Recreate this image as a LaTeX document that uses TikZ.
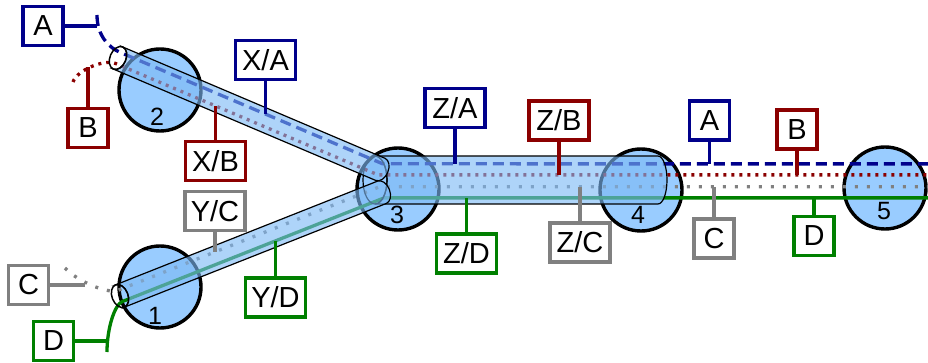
\documentclass[tikz,border=0pt]{standalone}
\usepackage{fontspec}
\setmainfont{Liberation Sans}
\definecolor{cA}{RGB}{0,0,139}
\definecolor{cB}{RGB}{139,0,0}
\definecolor{cC}{RGB}{128,128,128}
\definecolor{cD}{RGB}{0,128,0}
\definecolor{splicefill}{RGB}{153,204,255}
\definecolor{tubefill}{RGB}{125,185,245}
\begin{document}
\begin{tikzpicture}[x=1pt,y=1pt,
  labelbox/.style={draw, line width=3.2pt, fill=white, inner sep=0pt,
    minimum height=39pt, font=\fontsize{29}{34}\selectfont},
  boxone/.style={labelbox, minimum width=40pt},
  boxtwo/.style={labelbox, minimum width=60pt},
  tie/.style={line width=3.2pt},
  splice/.style={draw=black, line width=3.4pt, fill=splicefill},
  tube/.style={draw=black, line width=1.2pt, fill=tubefill, fill opacity=0.62},
  rim/.style={draw=black, line width=1.5pt},
  fibA/.style={draw=cA, line width=3.3pt, dash pattern=on 11pt off 6pt},
  fibB/.style={draw=cB, line width=3.3pt, dash pattern=on 3pt off 5pt},
  fibC/.style={draw=cC, line width=3.3pt, dash pattern=on 3pt off 9pt},
  fibD/.style={draw=cD, line width=3.3pt},
  num/.style={font=\fontsize{25}{30}\selectfont, inner sep=0pt}
]
\useasboundingbox (0,0) rectangle (928,-363);

% splice points
\node[splice, circle, minimum size=82pt] (s2) at (160,-90) {};
\node[splice, circle, minimum size=82pt] (s1) at (160,-287) {};
\node[splice, circle, minimum size=82pt] (s3) at (398,-189) {};
\node[splice, circle, minimum size=82pt] (s4) at (641,-190) {};
\node[splice, circle, minimum size=82pt] (s5) at (885,-188) {};

% fibre positions inside cable X
\begin{scope}[shift={(118,-58)}, rotate=-23]
  \coordinate (a1) at (0,6);   \coordinate (a2) at (285,6);
  \coordinate (b1) at (0,-6);  \coordinate (b2) at (285,-6);
  \coordinate (xa-tap) at (157.7,6);
  \coordinate (xb-tap) at (108.5,-6);
\end{scope}
% fibre positions inside cable Y
\begin{scope}[shift={(120,-296)}, rotate=21.6]
  \coordinate (c1) at (0,6);   \coordinate (c2) at (281.7,6);
  \coordinate (d1) at (0,-6);  \coordinate (d2) at (281.7,-6);
  \coordinate (yc-tap) at (104.5,6);
  \coordinate (yd-tap) at (164.9,-6);
\end{scope}
\coordinate (a0) at (97,-15);
\coordinate (b0) at (73,-82);
\coordinate (c0) at (65,-268);
\coordinate (d0) at (107,-352);
\coordinate (aend) at (928,-163.9);
\coordinate (bend) at (928,-174.9);
\coordinate (cend) at (928,-186.7);
\coordinate (dend) at (928,-197.9);

% fibres
\draw[fibA] (a0) .. controls (97,-36) and (109.2,-47.8) .. (a1) -- (a2) -- (aend);
\draw[fibB] (b0) .. controls (77,-70) and (104.6,-58.8) .. (b1) -- (b2) -- (bend);
\draw[fibC] (c0) .. controls (78,-282) and (108.5,-294.1) .. (c1) -- (c2) -- (cend);
\draw[fibD] (d0) .. controls (107,-328) and (114.8,-304.6) .. (d1) -- (d2) -- (dend);

% cable Z
\draw[tube] (375,-156) -- (658,-156)
  arc[start angle=90, end angle=-90, x radius=9, y radius=24]
  -- (375,-204) arc[start angle=-90, end angle=90, x radius=12, y radius=24] -- cycle;
\draw[rim, line width=1.2pt] (375,-180) ellipse[x radius=12, y radius=24];

% cable X
\begin{scope}[shift={(118,-58)}, rotate=-23]
  \draw[tube] (0,12) -- (285,12)
    arc[start angle=90, end angle=-90, x radius=8, y radius=12]
    -- (0,-12) arc[start angle=-90, end angle=90, x radius=8, y radius=12] -- cycle;
  \draw[rim] (0,0) ellipse[x radius=8, y radius=12];
\end{scope}
% cable Y
\begin{scope}[shift={(120,-296)}, rotate=21.6]
  \draw[tube] (0,12) -- (281.7,12)
    arc[start angle=90, end angle=-90, x radius=8, y radius=12]
    -- (0,-12) arc[start angle=-90, end angle=90, x radius=8, y radius=12] -- cycle;
  \draw[rim] (0,0) ellipse[x radius=8, y radius=12];
\end{scope}

% splice numbers
\node[num] (n2) at (157,-117) {2};
\node[num] (n1) at (155,-316) {1};
\node[num] (n3) at (397,-215) {3};
\node[num] (n4) at (638,-215) {4};
\node[num] (n5) at (884,-211) {5};

% labels
\node[boxone, draw=cA] (tA1) at (43,-26) {A};
\node[boxone, draw=cB] (tB1) at (88,-128) {B};
\node[boxone, draw=cC] (tC1) at (28.5,-285) {C};
\node[boxone, draw=cD] (tD1) at (53.5,-341) {D};
\node[boxtwo, draw=cA] (tXA) at (265.5,-60) {X/A};
\node[boxtwo, draw=cB] (tXB) at (215.5,-161) {X/B};
\node[boxtwo, draw=cC] (tYC) at (215,-211) {Y/C};
\node[boxtwo, draw=cD] (tYD) at (275.5,-297.5) {Y/D};
\node[boxtwo, draw=cA] (tZA) at (455,-108) {Z/A};
\node[boxtwo, draw=cB] (tZB) at (559,-120.5) {Z/B};
\node[boxtwo, draw=cD] (tZD) at (466.5,-253.5) {Z/D};
\node[boxtwo, draw=cC] (tZC) at (580,-242.5) {Z/C};
\node[boxone, draw=cA] (tA2) at (709.5,-120.5) {A};
\node[boxone, draw=cB] (tB2) at (797,-129.5) {B};
\node[boxone, draw=cC] (tC2) at (714,-238.5) {C};
\node[boxone, draw=cD] (tD2) at (814,-236) {D};

\coordinate (b-tap) at (88,-67.5);
\coordinate (c-tap) at (85,-285);

% leaders
\draw[tie, cA] (tA1.east) -- (tA1.east -| a0);
\draw[tie, cB] (tB1.north) -- (tB1.north |- b-tap);
\draw[tie, cC] (tC1.east) -- (c-tap);
\draw[tie, cD] (tD1.east) -- (tD1.east -| d0);
\draw[tie, cA] (tXA.south) -- (tXA.south |- xa-tap);
\draw[tie, cB] (tXB.north) -- (tXB.north |- xb-tap);
\draw[tie, cC] (tYC.south) -- (tYC.south |- yc-tap);
\draw[tie, cD] (tYD.north) -- (tYD.north |- yd-tap);
\draw[tie, cA] (tZA.south) -- (tZA.south |- aend);
\draw[tie, cB] (tZB.south) -- (tZB.south |- bend);
\draw[tie, cD] (tZD.north) -- (tZD.north |- dend);
\draw[tie, cC] (tZC.north) -- (tZC.north |- cend);
\draw[tie, cA] (tA2.south) -- (tA2.south |- aend);
\draw[tie, cB] (tB2.south) -- (tB2.south |- bend);
\draw[tie, cC] (tC2.north) -- (tC2.north |- cend);
\draw[tie, cD] (tD2.north) -- (tD2.north |- dend);
\end{tikzpicture}
\end{document}
